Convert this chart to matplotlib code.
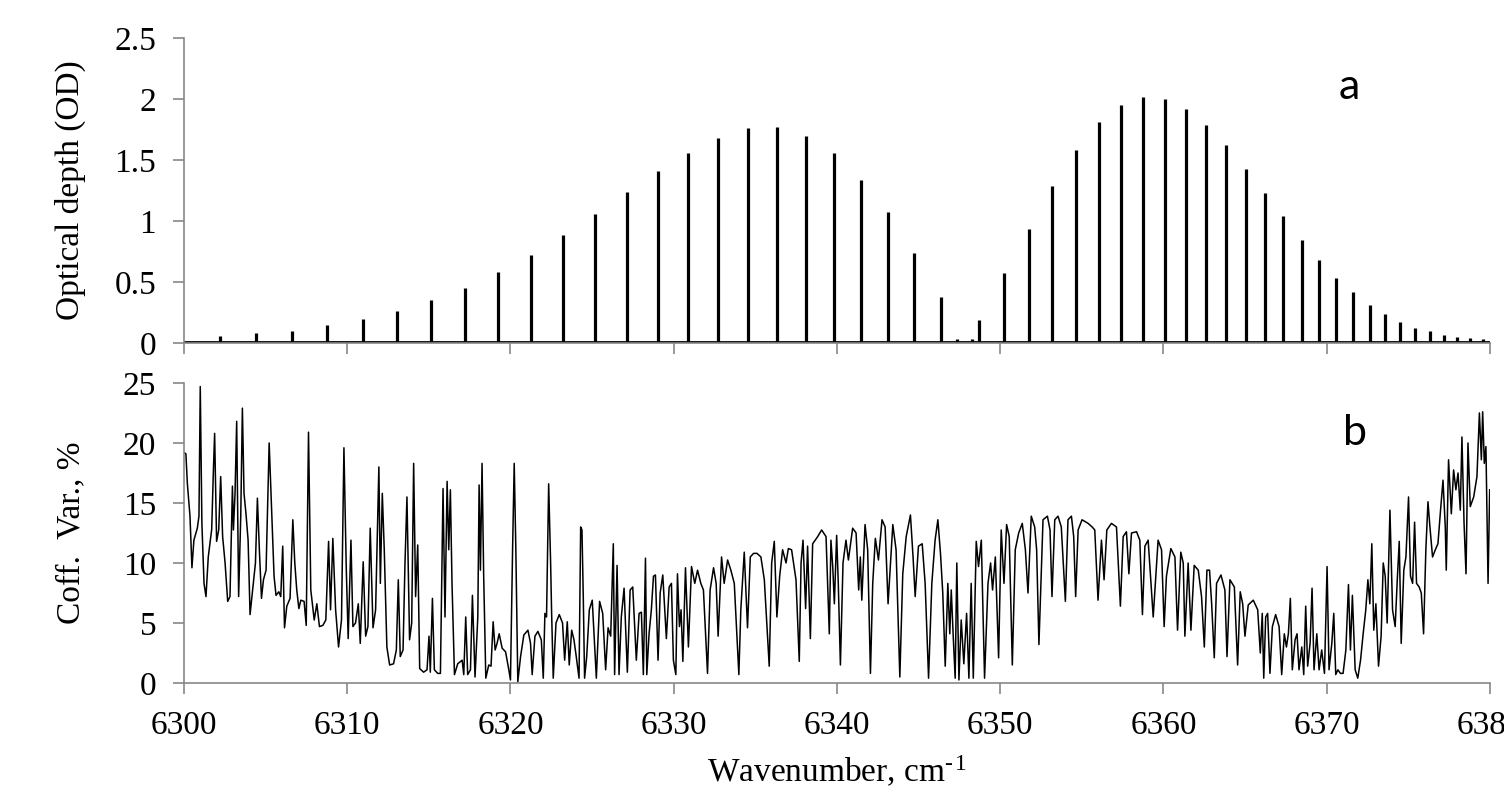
import matplotlib.pyplot as plt
from matplotlib.ticker import FuncFormatter

# panel a: line positions (cm-1) and peak optical depths
peak_wn = [6302.21, 6304.42, 6306.63, 6308.79, 6310.94, 6313.07, 6315.15, 6317.20, 6319.25, 6321.25,
           6323.23, 6325.20, 6327.14, 6329.04, 6330.90, 6332.72, 6334.54, 6336.32, 6338.08, 6339.80,
           6341.49, 6343.15, 6344.74, 6346.36, 6347.36, 6348.26, 6348.71, 6350.25, 6351.74, 6353.16,
           6354.64, 6356.06, 6357.40, 6358.77, 6360.08, 6361.35, 6362.60, 6363.85, 6365.05, 6366.20,
           6367.34, 6368.47, 6369.51, 6370.55, 6371.60, 6372.62, 6373.56, 6374.50, 6375.40, 6376.30,
           6377.18, 6378.00, 6378.80, 6379.60]
peak_od = [0.06, 0.08, 0.10, 0.145, 0.20, 0.26, 0.35, 0.45, 0.58, 0.72,
           0.885, 1.06, 1.235, 1.41, 1.56, 1.68, 1.76, 1.77, 1.70, 1.56,
           1.34, 1.07, 0.735, 0.38, 0.03, 0.03, 0.19, 0.57, 0.935, 1.29,
           1.585, 1.81, 1.95, 2.02, 2.0, 1.92, 1.79, 1.625, 1.43, 1.23,
           1.04, 0.845, 0.68, 0.535, 0.42, 0.315, 0.235, 0.17, 0.125, 0.095,
           0.065, 0.05, 0.04, 0.03]
baseline_od = 0.012

# panel b: coefficient of variation, %
cv_wn = [
    6300.00, 6300.12, 6300.21, 6300.37, 6300.49, 6300.61, 6300.82, 6300.92, 6301.00, 6301.10,
    6301.23, 6301.35, 6301.49, 6301.70, 6301.80, 6301.88, 6302.00, 6302.13, 6302.25, 6302.37,
    6302.52, 6302.68, 6302.82, 6302.97, 6303.03, 6303.13, 6303.23, 6303.35, 6303.48, 6303.58,
    6303.68, 6303.80, 6303.93, 6304.05, 6304.21, 6304.38, 6304.50, 6304.62, 6304.75, 6304.87,
    6305.03, 6305.22, 6305.40, 6305.52, 6305.64, 6305.81, 6305.93, 6306.05, 6306.16, 6306.30,
    6306.50, 6306.67, 6306.79, 6306.91, 6307.04, 6307.16, 6307.36, 6307.49, 6307.63, 6307.77,
    6307.98, 6308.14, 6308.30, 6308.51, 6308.69, 6308.86, 6308.98, 6309.12, 6309.29, 6309.47,
    6309.65, 6309.80, 6309.94, 6310.06, 6310.23, 6310.35, 6310.51, 6310.68, 6310.80, 6310.98,
    6311.13, 6311.27, 6311.41, 6311.58, 6311.74, 6311.94, 6312.03, 6312.15, 6312.27, 6312.43,
    6312.60, 6312.84, 6313.01, 6313.13, 6313.25, 6313.42, 6313.54, 6313.66, 6313.82, 6313.95,
    6314.07, 6314.19, 6314.32, 6314.44, 6314.68, 6314.89, 6315.01, 6315.09, 6315.22, 6315.34,
    6315.54, 6315.71, 6315.87, 6315.99, 6316.12, 6316.22, 6316.32, 6316.42, 6316.57, 6316.77,
    6317.04, 6317.14, 6317.26, 6317.38, 6317.55, 6317.67, 6317.83, 6318.00, 6318.08, 6318.16,
    6318.26, 6318.36, 6318.49, 6318.67, 6318.81, 6318.94, 6319.06, 6319.18, 6319.31,
    6319.49, 6319.70, 6319.90, 6320.00, 6320.13, 6320.23, 6320.33, 6320.45, 6320.62, 6320.82,
    6321.07, 6321.23, 6321.33, 6321.50, 6321.68, 6321.89, 6322.01, 6322.11, 6322.21, 6322.34,
    6322.46, 6322.52, 6322.62, 6322.79, 6322.99, 6323.19, 6323.32, 6323.48, 6323.60, 6323.75,
    6323.89, 6324.03, 6324.20, 6324.30, 6324.38, 6324.46, 6324.54, 6324.67, 6324.83, 6325.01,
    6325.26, 6325.46, 6325.65, 6325.83, 6325.98, 6326.14, 6326.30, 6326.38, 6326.53, 6326.65,
    6326.79, 6326.96, 6327.16, 6327.33, 6327.49, 6327.71, 6327.88, 6328.02, 6328.14, 6328.27,
    6328.35, 6328.49, 6328.63, 6328.76, 6328.88, 6329.04, 6329.17, 6329.33, 6329.55, 6329.72,
    6329.86, 6329.98, 6330.13, 6330.23, 6330.35, 6330.45, 6330.56, 6330.72, 6330.90, 6331.09,
    6331.29, 6331.46, 6331.66, 6331.82, 6332.07, 6332.23, 6332.44, 6332.60, 6332.72, 6332.93,
    6333.09, 6333.30, 6333.50, 6333.71, 6333.99, 6334.11, 6334.32, 6334.52, 6334.69, 6334.89,
    6335.10, 6335.34, 6335.55, 6335.85, 6336.00, 6336.16, 6336.32, 6336.49, 6336.67, 6336.88,
    6337.02, 6337.22, 6337.49, 6337.69, 6337.80, 6337.92, 6338.08, 6338.20, 6338.37, 6338.51,
    6338.82, 6339.06, 6339.33, 6339.53,
    6339.63, 6339.74, 6339.84, 6339.98, 6340.08, 6340.21, 6340.37, 6340.55, 6340.70, 6340.96,
    6341.17, 6341.33, 6341.43, 6341.52, 6341.72, 6341.88, 6342.05, 6342.19, 6342.35, 6342.54,
    6342.76, 6342.95, 6343.13, 6343.42, 6343.62, 6343.85, 6344.03, 6344.24, 6344.50, 6344.66,
    6344.79, 6344.99, 6345.22, 6345.40, 6345.61, 6345.81, 6346.01, 6346.18, 6346.34, 6346.48,
    6346.63, 6346.79, 6346.91, 6347.00, 6347.12, 6347.24, 6347.34, 6347.47, 6347.61, 6347.77,
    6347.94, 6348.08, 6348.22, 6348.35, 6348.53, 6348.67, 6348.84, 6349.04, 6349.25, 6349.41,
    6349.53, 6349.70, 6349.90, 6350.06, 6350.23, 6350.39, 6350.55, 6350.74, 6350.92, 6351.13,
    6351.35, 6351.54, 6351.70, 6351.90, 6352.11, 6352.23, 6352.37, 6352.62, 6352.89, 6353.05,
    6353.17, 6353.34, 6353.54, 6353.74, 6353.99, 6354.15, 6354.36, 6354.50, 6354.62, 6354.77,
    6355.01, 6355.38, 6355.63, 6355.79, 6355.99, 6356.20, 6356.36, 6356.53, 6356.81, 6357.12,
    6357.36, 6357.53, 6357.73, 6357.88, 6358.04, 6358.35, 6358.55, 6358.71, 6358.86, 6359.06,
    6359.37, 6359.67, 6359.88, 6360.04, 6360.18, 6360.45, 6360.70, 6360.86, 6361.06, 6361.21,
    6361.31, 6361.51, 6361.68, 6361.88, 6362.13, 6362.33, 6362.50, 6362.66, 6362.82, 6362.95,
    6363.11, 6363.25, 6363.52, 6363.76, 6363.89, 6364.07, 6364.34, 6364.54, 6364.70, 6364.85,
    6364.99, 6365.19, 6365.50, 6365.77, 6365.93, 6366.05, 6366.14, 6366.26, 6366.38, 6366.52,
    6366.67, 6366.87, 6367.08, 6367.24, 6367.40, 6367.53, 6367.65, 6367.77, 6367.89, 6368.06,
    6368.18, 6368.30, 6368.47, 6368.59, 6368.71, 6368.83, 6368.98, 6369.10, 6369.22, 6369.39,
    6369.53, 6369.69, 6369.86, 6370.02, 6370.14, 6370.31, 6370.43, 6370.55, 6370.68, 6370.84,
    6371.00, 6371.17, 6371.33, 6371.45, 6371.57, 6371.74, 6371.90, 6372.07, 6372.23, 6372.39,
    6372.52, 6372.64, 6372.76, 6372.88, 6373.01, 6373.17, 6373.33, 6373.46, 6373.58, 6373.70,
    6373.87, 6374.03, 6374.19, 6374.32, 6374.44, 6374.56, 6374.72, 6374.85, 6375.01, 6375.13,
    6375.26, 6375.38, 6375.50, 6375.66, 6375.79, 6375.93, 6376.07, 6376.20, 6376.32, 6376.48,
    6376.65, 6376.81, 6376.97, 6377.12, 6377.26, 6377.32, 6377.46, 6377.63, 6377.77, 6377.91,
    6378.04, 6378.18, 6378.28, 6378.41, 6378.53, 6378.65, 6378.79, 6379.00, 6379.20, 6379.35,
    6379.47, 6379.55, 6379.65, 6379.75, 6379.88, 6379.98,
]
cv_val = [
    19.2, 19.1, 16.6, 13.9, 9.6, 11.9, 12.9, 13.9, 24.7, 13.3,
    8.3, 7.2, 10.5, 12.8, 17.5, 20.8, 11.8, 12.75, 17.2, 12.2,
    10.0, 6.8, 7.2, 16.4, 12.75, 15.8, 21.8, 7.2, 13.9, 22.9,
    15.8, 14.1, 11.9, 5.7, 7.75, 10.0, 15.4, 11.1, 7.05, 8.6,
    9.4, 20.0, 13.3, 8.9, 7.3, 7.6, 7.2, 11.4, 4.6, 6.4,
    7.05, 13.6, 10.0, 7.75, 6.2, 6.9, 6.8, 4.8, 20.9, 7.75,
    5.25, 6.6, 4.7, 4.8, 5.25, 11.8, 6.1, 12.05, 6.1, 3.0,
    5.25, 19.6, 9.7, 3.7, 11.9, 4.7, 5.0, 6.6, 3.3, 10.1,
    3.9, 4.7, 12.9, 4.6, 6.1, 18.0, 8.3, 15.8, 11.1, 3.0,
    1.5, 1.6, 2.75, 8.6, 2.2, 2.75, 10.0, 15.5, 3.6, 5.0,
    18.3, 7.2, 11.5, 1.2, 0.9, 1.1, 3.9, 0.9, 7.05, 1.1,
    0.8, 0.8, 16.2, 5.5, 16.8, 11.1, 16.1, 8.3, 0.7, 1.6,
    1.9, 0.7, 5.5, 0.7, 1.1, 7.3, 0.5, 5.5, 16.5, 9.4,
    18.3, 8.9, 0.4, 1.5, 1.4, 5.1, 2.75, 3.3, 4.1,
    2.9, 2.6, 1.1, 0.25, 11.1, 18.3, 11.1, 0.1, 2.2, 4.0,
    4.4, 3.3, 0.7, 3.9, 4.3, 3.6, 0.4, 5.8, 5.5, 16.6,
    10.0, 5.9, 0.4, 5.0, 5.7, 5.0, 1.9, 5.1, 1.5, 4.4,
    3.6, 2.2, 0.4, 13.0, 12.75, 7.2, 0.4, 2.2, 6.1, 6.9,
    0.4, 6.8, 5.8, 1.1, 4.6, 3.9, 11.6, 0.7, 9.8, 0.7,
    5.5, 7.9, 0.9, 7.75, 8.0, 1.9, 5.8, 5.9, 0.7, 10.4,
    0.7, 4.1, 6.1, 8.9, 9.0, 1.9, 7.5, 9.0, 3.7, 8.0,
    8.3, 1.9, 0.7, 9.1, 4.7, 6.1, 1.8, 9.6, 3.0, 9.7,
    8.3, 9.4, 8.3, 7.75, 0.8, 7.75, 9.6, 8.3, 3.9, 10.5,
    8.3, 10.25, 9.4, 8.3, 0.7, 6.1, 10.9, 4.6, 10.5, 10.8,
    10.8, 10.5, 8.6, 1.4, 10.0, 11.8, 5.5, 8.9, 11.1, 10.0,
    11.2, 11.1, 8.6, 1.8, 10.0, 11.9, 6.2, 11.4, 3.7, 11.6,
    12.2, 12.75, 12.2, 4.1,
    11.9, 9.7, 6.6, 12.3, 8.3, 1.5, 10.0, 11.9, 10.25, 12.9,
    12.5, 7.75, 10.5, 6.9, 13.2, 11.1, 0.8, 8.3, 12.05, 10.25,
    13.6, 13.0, 6.6, 13.2, 11.1, 0.5, 9.1, 12.2, 14.0, 10.5,
    7.2, 11.4, 11.6, 8.3, 0.4, 8.3, 11.9, 13.6, 10.8, 7.5,
    1.4, 8.3, 4.1, 7.75, 3.9, 0.4, 10.0, 0.25, 5.25, 1.6,
    5.8, 0.4, 8.3, 0.4, 11.8, 9.7, 11.9, 0.4, 8.3, 10.0,
    7.75, 10.5, 2.1, 12.75, 8.3, 13.2, 12.2, 1.5, 11.1, 12.5,
    13.3, 11.1, 7.5, 13.9, 13.0, 11.1, 3.2, 13.6, 13.9, 12.75,
    7.2, 13.6, 13.9, 13.0, 6.8, 13.6, 13.9, 12.2, 7.2, 12.75,
    13.6, 13.3, 13.0, 12.75, 6.9, 11.9, 8.6, 12.75, 13.3, 13.0,
    6.4, 12.2, 12.6, 9.1, 12.5, 12.6, 11.9, 5.7, 11.4, 11.9,
    5.5, 11.9, 11.1, 4.7, 8.9, 11.2, 10.5, 4.4, 10.9, 10.0,
    3.9, 10.0, 4.4, 9.8, 9.4, 7.2, 3.0, 9.4, 9.4, 6.6,
    2.1, 8.3, 9.0, 7.75, 2.2, 8.6, 8.0, 1.5, 7.6, 6.6,
    3.9, 6.5, 6.9, 6.1, 2.5, 5.8, 0.4, 5.5, 5.8, 0.8,
    4.7, 5.7, 4.7, 0.7, 4.1, 3.0, 4.1, 7.05, 1.1, 3.6,
    4.1, 1.1, 3.0, 0.7, 6.4, 1.4, 3.3, 7.9, 1.1, 4.1,
    1.1, 2.75, 0.8, 9.7, 1.1, 3.3, 5.8, 0.7, 1.1, 0.8,
    0.8, 2.75, 8.2, 2.75, 7.3, 1.1, 0.4, 1.9, 4.1, 6.1,
    8.6, 6.6, 11.6, 4.4, 6.6, 1.4, 3.9, 10.0, 8.9, 5.0,
    14.4, 6.1, 4.7, 8.6, 11.8, 3.3, 9.4, 10.5, 15.5, 8.9,
    8.3, 13.4, 8.3, 8.0, 7.5, 4.1, 11.1, 15.1, 13.0, 10.5,
    11.1, 11.6, 14.4, 16.9, 13.0, 9.4, 18.6, 14.1, 17.75, 16.1,
    17.5, 14.4, 20.5, 13.3, 9.1, 20.0, 14.7, 15.5, 17.2, 22.5,
    18.6, 22.6, 18.3, 19.7, 8.3, 16.1,
]

x_ticks = [6300, 6310, 6320, 6330, 6340, 6350, 6360, 6370, 6380]
od_ticks = [0, 0.5, 1, 1.5, 2, 2.5]
cv_ticks = [0, 5, 10, 15, 20, 25]

plt.rcParams['font.family'] = ['Liberation Serif', 'DejaVu Serif']
plt.rcParams['mathtext.fontset'] = 'custom'
plt.rcParams['mathtext.rm'] = 'Liberation Serif'
plt.rcParams['mathtext.default'] = 'regular'

gray = '#878787'

fig = plt.figure(figsize=(15.04, 8.02), dpi=100)
ax1 = fig.add_axes([0.1223, 0.5723, 0.8684, 0.3803])
ax2 = fig.add_axes([0.1223, 0.1484, 0.8684, 0.3741])

# optical depth spectrum
ax1.vlines(peak_wn, baseline_od, peak_od, color='black', lw=2.3)
ax1.axhline(baseline_od, color='black', lw=2.0)
ax1.set_ylim(0, 2.5)
ax1.set_yticks(od_ticks)
ax1.set_ylabel('Optical depth (OD)', fontsize=24)
ax1.text(6371.35, 2.1, 'a', fontsize=31, family='Lato', ha='center', va='center')

# coefficient of variation
ax2.plot(cv_wn, cv_val, color='black', lw=1.1)
ax2.set_ylim(0, 25)
ax2.set_yticks(cv_ticks)
ax2.set_ylabel('Coff.  Var., %', fontsize=24)
ax2.set_xlabel('Wavenumber, cm$^{\u2010\u200a1}$', fontsize=24, labelpad=9)
ax2.text(6371.7, 20.8, 'b', fontsize=31, family='Lato', ha='center', va='center')

fmt = FuncFormatter(lambda v, p: '%g' % v)
for ax in (ax1, ax2):
    ax.set_xlim(6300, 6380)
    ax.set_xticks(x_ticks)
    ax.yaxis.set_major_formatter(fmt)
    ax.spines['top'].set_visible(False)
    ax.spines['right'].set_visible(False)
    for s in ('left', 'bottom'):
        ax.spines[s].set_color(gray)
        ax.spines[s].set_linewidth(1.2)
    ax.tick_params(direction='out', length=8, width=1.2, color=gray,
                   labelsize=24, pad=12)
    ax.yaxis.set_label_coords(-0.075, 0.5)

ax1.tick_params(axis='x', labelbottom=False)

plt.savefig('out.png', dpi=100)
